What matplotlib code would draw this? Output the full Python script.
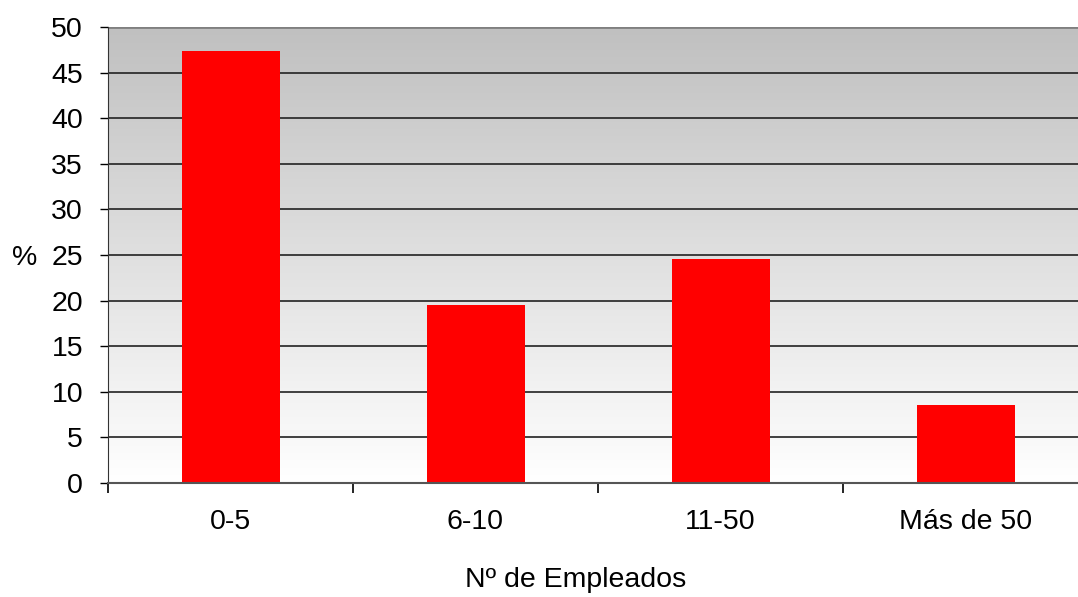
import numpy as np
import matplotlib
matplotlib.use("Agg")
import matplotlib.pyplot as plt
from matplotlib.colors import LinearSegmentedColormap

categories = ["0-5", "6-10", "11-50", "Más de 50"]
values = [47.4, 19.5, 24.6, 8.5]
yticks = [0, 5, 10, 15, 20, 25, 30, 35, 40, 45, 50]

plt.rcParams['font.family'] = ['Liberation Sans', 'DejaVu Sans']

W, H = 1078, 597
FS = 20.5
fig = plt.figure(figsize=(W / 100, H / 100), dpi=100)
left, right, top, bottom = 108, 1088, 27, 483
ax = fig.add_axes([left / W, 1 - bottom / H, (right - left) / W, (bottom - top) / H])

x = np.arange(len(categories))
ax.set_xlim(-0.5, len(categories) - 0.5)
ax.set_ylim(0, 50)

# gradient background
cmap = LinearSegmentedColormap.from_list("bg", ["#ffffff", "#c0c0c0"])
grad = np.linspace(0, 1, 256).reshape(-1, 1)
ax.imshow(grad, cmap=cmap, aspect="auto", origin="lower",
          extent=[-0.5, len(categories) - 0.5, 0, 50], zorder=0)

for yv in yticks[1:-1]:
    ax.axhline(yv, color="#222222", lw=1.2, zorder=1)
ax.axhline(50, color="#808080", lw=2.0, zorder=1)

ax.bar(x, values, width=0.4, color="#ff0000", zorder=2)

ax.set_yticks(yticks)
ax.set_yticklabels([str(v) for v in yticks], fontsize=FS)
ax.set_xticks(x)
ax.set_xticklabels(categories, fontsize=FS)
ax.tick_params(axis="x", length=0, pad=19)
ax.tick_params(axis="y", length=6, width=1, direction="out", pad=12)
# category boundary ticks
ax.set_xticks(np.arange(len(categories) + 1) - 0.5, minor=True)
ax.tick_params(axis="x", which="minor", length=7, width=1.2, direction="out")

for s in ["top", "right"]:
    ax.spines[s].set_visible(False)
ax.spines["left"].set_color("#333333")
ax.spines["bottom"].set_color("#555555")
ax.spines["bottom"].set_linewidth(1.5)

fig.text(25 / W, 1 - 258 / H, "%", fontsize=FS, ha="center", va="center")
fig.text(576 / W, 1 - 580 / H, "Nº de Empleados", fontsize=FS, ha="center", va="center")

fig.savefig("out.png", dpi=100)
